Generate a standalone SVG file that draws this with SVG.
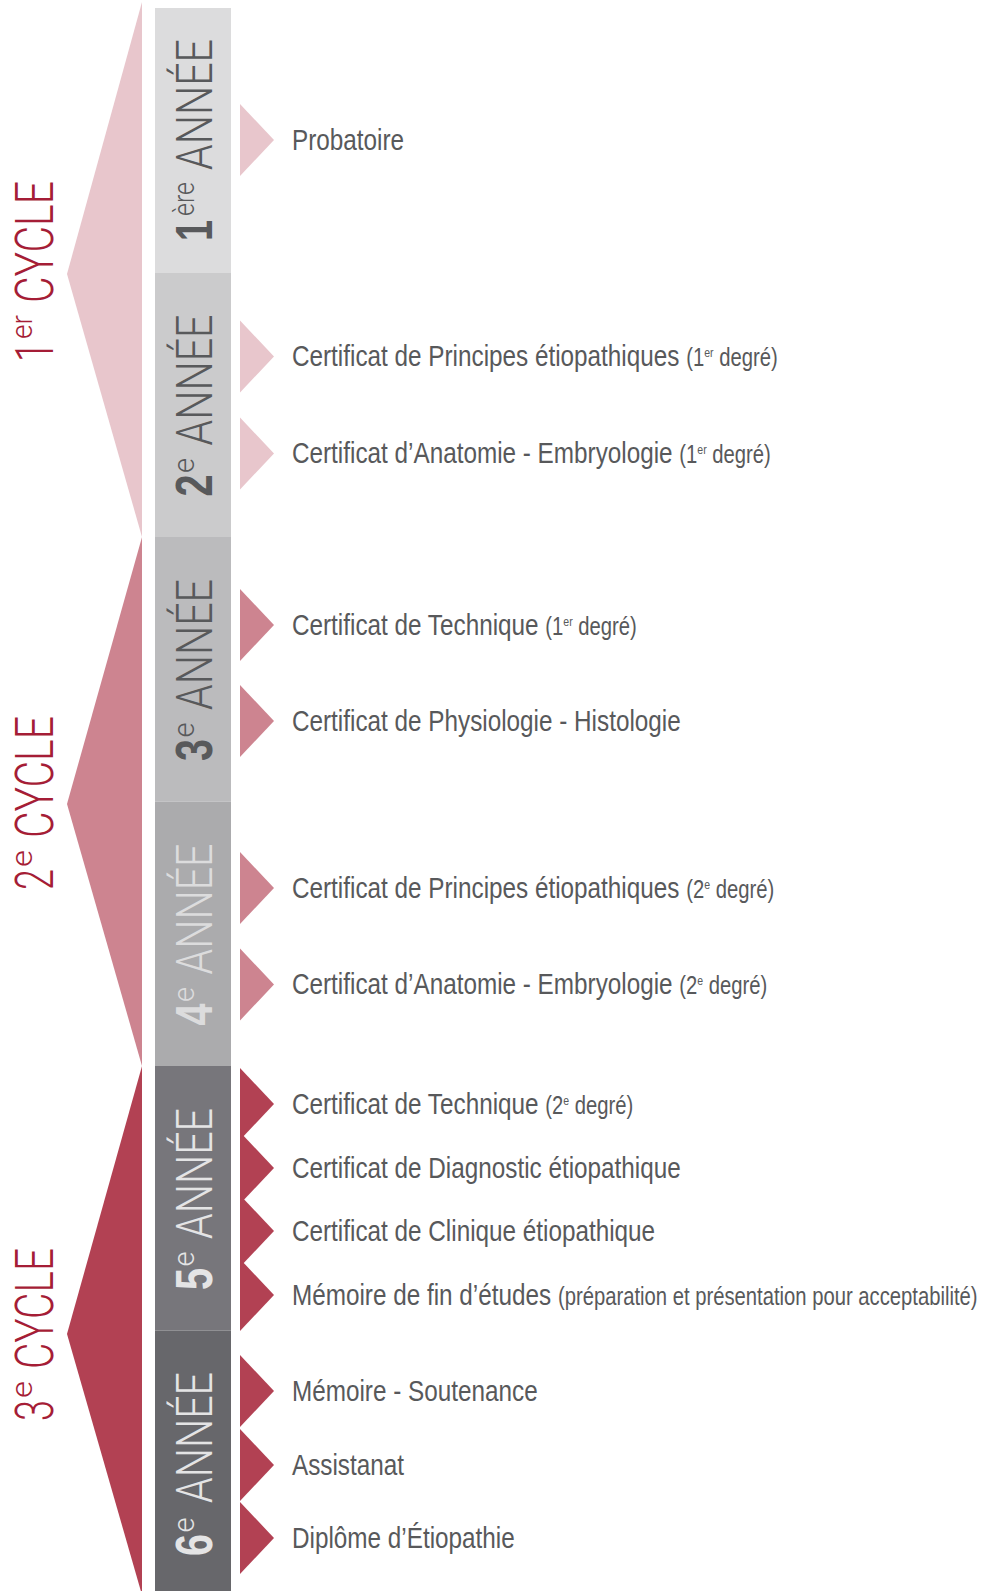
<svg xmlns="http://www.w3.org/2000/svg" width="983" height="1591" viewBox="0 0 983 1591">
<style>
.item{font-family:"Liberation Sans",Arial,sans-serif;font-size:30px;fill:#58595b}
.par{font-size:25px}
.sup{font-size:13px}
.yr{font-family:Roboto,"Liberation Sans",sans-serif;font-weight:300;font-size:50px}
.ysup{font-family:Roboto,"Liberation Sans",sans-serif;font-weight:300;font-size:29px}
.num{font-family:"Liberation Sans",Arial,sans-serif;font-weight:bold;font-size:52px}
.cyc{font-family:Roboto,"Liberation Sans",sans-serif;font-weight:300;font-size:53px;fill:#a51d36}
.csup{font-family:Roboto,"Liberation Sans",sans-serif;font-weight:300;font-size:29px;fill:#a51d36}
.dark{fill:#58595b}
.l4{fill:#dcdcdd}
.l5{fill:#e4e4e5}
.c1{fill:#e8c6cc}
.c2{fill:#cd8490}
.c3{fill:#b24153}
</style>
<rect width="983" height="1591" fill="#ffffff"/>
<g id="cycles">
<g id="cycle1"><polygon class="c1" points="142,2 67,274 142,537"/>
<text class="cyc" transform="translate(53,362) rotate(-90)" textLength="20" lengthAdjust="spacingAndGlyphs">1</text>
<text class="csup" transform="translate(32,339) rotate(-90)" textLength="24" lengthAdjust="spacingAndGlyphs">er</text>
<text class="cyc" transform="translate(53,303) rotate(-90)" textLength="122" lengthAdjust="spacingAndGlyphs">CYCLE</text></g>
<g id="cycle2"><polygon class="c2" points="142,537 67,804 142,1066"/>
<text class="cyc" transform="translate(53,890) rotate(-90)" textLength="21" lengthAdjust="spacingAndGlyphs">2</text>
<text class="csup" transform="translate(32,867) rotate(-90)" textLength="17" lengthAdjust="spacingAndGlyphs">e</text>
<text class="cyc" transform="translate(53,838) rotate(-90)" textLength="122" lengthAdjust="spacingAndGlyphs">CYCLE</text></g>
<g id="cycle3"><polygon class="c3" points="142,1066 67,1334 142,1595"/>
<text class="cyc" transform="translate(53,1421) rotate(-90)" textLength="21" lengthAdjust="spacingAndGlyphs">3</text>
<text class="csup" transform="translate(32,1398) rotate(-90)" textLength="17" lengthAdjust="spacingAndGlyphs">e</text>
<text class="cyc" transform="translate(53,1369) rotate(-90)" textLength="121" lengthAdjust="spacingAndGlyphs">CYCLE</text></g>
</g>
<g id="years">
<g id="year1"><rect x="155" y="8" width="76" height="264.5" fill="#dcdcdd"/>
<text class="num dark" transform="translate(212,241) rotate(-90)" textLength="21" lengthAdjust="spacingAndGlyphs">1</text>
<text class="ysup dark" transform="translate(194,216) rotate(-90)" textLength="34" lengthAdjust="spacingAndGlyphs">ère</text>
<text class="yr dark" transform="translate(212,170) rotate(-90)" textLength="131" lengthAdjust="spacingAndGlyphs">ANNÉE</text></g>
<g id="year2"><rect x="155" y="272.5" width="76" height="264.5" fill="#cbcbcc"/>
<text class="num dark" transform="translate(212,496.5) rotate(-90)" textLength="22" lengthAdjust="spacingAndGlyphs">2</text>
<text class="ysup dark" transform="translate(194,473) rotate(-90)" textLength="15" lengthAdjust="spacingAndGlyphs">e</text>
<text class="yr dark" transform="translate(212,445.5) rotate(-90)" textLength="131" lengthAdjust="spacingAndGlyphs">ANNÉE</text></g>
<g id="year3"><rect x="155" y="537" width="76" height="264.5" fill="#bbbbbd"/>
<text class="num dark" transform="translate(212,761) rotate(-90)" textLength="22" lengthAdjust="spacingAndGlyphs">3</text>
<text class="ysup dark" transform="translate(194,737.5) rotate(-90)" textLength="15" lengthAdjust="spacingAndGlyphs">e</text>
<text class="yr dark" transform="translate(212,710) rotate(-90)" textLength="131" lengthAdjust="spacingAndGlyphs">ANNÉE</text></g>
<g id="year4"><rect x="155" y="801.5" width="76" height="264.5" fill="#ababad"/>
<text class="num l4" transform="translate(212,1025.5) rotate(-90)" textLength="22" lengthAdjust="spacingAndGlyphs">4</text>
<text class="ysup l4" transform="translate(194,1002) rotate(-90)" textLength="15" lengthAdjust="spacingAndGlyphs">e</text>
<text class="yr l4" transform="translate(212,974.5) rotate(-90)" textLength="131" lengthAdjust="spacingAndGlyphs">ANNÉE</text></g>
<g id="year5"><rect x="155" y="1066" width="76" height="264.5" fill="#77767b"/>
<text class="num l5" transform="translate(212,1290) rotate(-90)" textLength="22" lengthAdjust="spacingAndGlyphs">5</text>
<text class="ysup l5" transform="translate(194,1266.5) rotate(-90)" textLength="15" lengthAdjust="spacingAndGlyphs">e</text>
<text class="yr l5" transform="translate(212,1239) rotate(-90)" textLength="131" lengthAdjust="spacingAndGlyphs">ANNÉE</text></g>
<g id="year6"><rect x="155" y="1330.5" width="76" height="260.5" fill="#67676b"/>
<text class="num l5" transform="translate(212,1556) rotate(-90)" textLength="22" lengthAdjust="spacingAndGlyphs">6</text>
<text class="ysup l5" transform="translate(194,1532.5) rotate(-90)" textLength="15" lengthAdjust="spacingAndGlyphs">e</text>
<text class="yr l5" transform="translate(212,1503) rotate(-90)" textLength="131" lengthAdjust="spacingAndGlyphs">ANNÉE</text></g>
</g>
<g id="connectors">
<polygon class="c1" points="240,104 274,140 240,176"/>
<polygon class="c1" points="240,320.5 274,356.5 240,392.5"/>
<polygon class="c1" points="240,417.5 274,453.5 240,489.5"/>
<polygon class="c2" points="240,589 274,625 240,661"/>
<polygon class="c2" points="240,685 274,721 240,757"/>
<polygon class="c2" points="240,852 274,888 240,924"/>
<polygon class="c2" points="240,948.5 274,984.5 240,1020.5"/>
<polygon class="c3" points="240,1068 274,1104 240,1140"/>
<polygon class="c3" points="240,1132 274,1168 240,1204"/>
<polygon class="c3" points="240,1195 274,1231 240,1267"/>
<polygon class="c3" points="240,1259 274,1295 240,1331"/>
<polygon class="c3" points="240,1355 274,1391 240,1427"/>
<polygon class="c3" points="240,1429 274,1465 240,1501"/>
<polygon class="c3" points="240,1502 274,1538 240,1574"/>
</g>
<g id="items" transform="scale(0.81,1)">
<g id="item1"><text class="item" x="360.5" y="150">Probatoire</text></g>
<g id="item2"><text class="item" x="360.5" y="366.5">Certificat de Principes étiopathiques <tspan class="par">(1</tspan><tspan class="sup" dy="-9">er</tspan><tspan class="par" dy="9"> degré)</tspan></text></g>
<g id="item3"><text class="item" x="360.5" y="463.5">Certificat d’Anatomie - Embryologie <tspan class="par">(1</tspan><tspan class="sup" dy="-9">er</tspan><tspan class="par" dy="9"> degré)</tspan></text></g>
<g id="item4"><text class="item" x="360.5" y="635">Certificat de Technique <tspan class="par">(1</tspan><tspan class="sup" dy="-9">er</tspan><tspan class="par" dy="9"> degré)</tspan></text></g>
<g id="item5"><text class="item" x="360.5" y="731">Certificat de Physiologie - Histologie</text></g>
<g id="item6"><text class="item" x="360.5" y="898">Certificat de Principes étiopathiques <tspan class="par">(2</tspan><tspan class="sup" dy="-9">e</tspan><tspan class="par" dy="9"> degré)</tspan></text></g>
<g id="item7"><text class="item" x="360.5" y="994.5">Certificat d’Anatomie - Embryologie <tspan class="par">(2</tspan><tspan class="sup" dy="-9">e</tspan><tspan class="par" dy="9"> degré)</tspan></text></g>
<g id="item8"><text class="item" x="360.5" y="1114">Certificat de Technique <tspan class="par">(2</tspan><tspan class="sup" dy="-9">e</tspan><tspan class="par" dy="9"> degré)</tspan></text></g>
<g id="item9"><text class="item" x="360.5" y="1178">Certificat de Diagnostic étiopathique</text></g>
<g id="item10"><text class="item" x="360.5" y="1241">Certificat de Clinique étiopathique</text></g>
<g id="item11"><text class="item" x="360.5" y="1305">Mémoire de fin d’études <tspan class="par">(préparation et présentation pour acceptabilité)</tspan></text></g>
<g id="item12"><text class="item" x="360.5" y="1401">Mémoire - Soutenance</text></g>
<g id="item13"><text class="item" x="360.5" y="1475">Assistanat</text></g>
<g id="item14"><text class="item" x="360.5" y="1548">Diplôme d’Étiopathie</text></g>
</g>
</svg>
